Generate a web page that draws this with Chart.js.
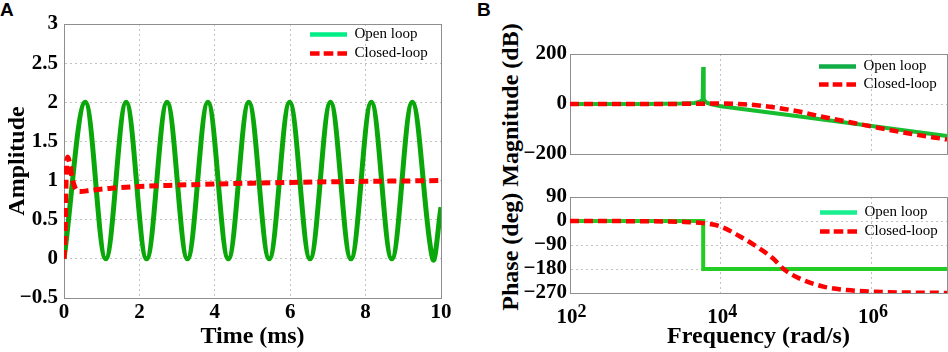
<!DOCTYPE html>
<html>
<head>
<meta charset="utf-8">
<script src="https://cdn.jsdelivr.net/npm/chart.js@4.4.0/dist/chart.umd.min.js"></script>
<style>
  body { margin: 0; background: #fff; width: 948px; height: 352px; overflow: hidden; position: relative; }
  canvas { position: absolute; }
  #cA { left: 0; top: 0; }
  #cMag { left: 470px; top: 0; }
  #cPh { left: 470px; top: 176px; }
  .panel { position: absolute; font: bold 19px "Liberation Sans", Arial, sans-serif; }
  #bodeY { position: absolute; left: 510px; top: 166.5px; transform: translate(-50%, -50%) rotate(-90deg);
           white-space: nowrap; line-height: 1; font: bold 24px "Liberation Serif", "Times New Roman", serif; }
</style>
</head>
<body>
<div class="panel" style="left:0px;top:-1px">A</div>
<div class="panel" style="left:477px;top:-1px">B</div>
<div id="bodeY">Phase (deg) Magnitude (dB)</div>
<canvas id="cA" width="470" height="352"></canvas>
<canvas id="cMag" width="478" height="176"></canvas>
<canvas id="cPh" width="478" height="176"></canvas>
<script>
// ---- panel A: step response (time in ms) ----
var openT = [0, 0.565, 1.107, 1.649, 2.191, 2.733, 3.275, 3.817, 4.359, 4.901, 5.443, 5.985, 6.527, 7.069, 7.611, 8.153, 8.695, 9.237, 9.779, 10];
var openAmp = [0, 2, 0, 2, 0, 2, 0, 2, 0, 2, 0, 2, 0, 2, 0, 2, 0, 2, 0, 0.66];
var closedT = [0, 0.03, 0.06, 0.1, 0.15, 0.21, 0.3, 0.43, 0.7, 1.2, 2, 3, 4, 5, 6, 7, 8, 9, 10];
var closedAmp = [0, 0.35, 1.1, 1.3, 1.22, 1.05, 0.9, 0.86, 0.875, 0.9, 0.925, 0.942, 0.956, 0.967, 0.976, 0.984, 0.99, 0.995, 1.0];

// ---- panel B: bode (rad/s) ----
var magFreqOpen = [1e2, 1e3, 3e3, 4.5e3, 5.3e3, 5.75e3, 5.84e3, 5.93e3, 6.5e3, 7.5e3, 1e4, 1e5, 1e6, 1e7];
var magOpen = [0, 0.5, 2, 4, 9, 18, 148, 18, 5, -1, -9, -48, -88, -128];
var magFreqClosed = [1e2, 1e3, 5e3, 1e4, 2e4, 3e4, 5e4, 1e5, 2e5, 5e5, 1e6, 3e6, 1e7];
var magClosed = [0, 0, 1, 2, -1, -5, -13, -28, -48, -72, -90, -117, -142];
var phFreqOpen = [1e2, 5.84e3, 5.84e3, 1e7];
var phOpen = [0, 0, -180, -180];
var phFreqClosed = [1e2, 1e3, 3e3, 5.8e3, 1e4, 1.8e4, 3e4, 4.9e4, 7e4, 1.1e5, 2.3e5, 4.7e5, 1e6, 1e7];
var phClosed = [0, -1, -3, -8, -21, -58, -96, -140, -183, -215, -246, -259, -265, -270];

var freqTicks = [1e2, 1e4, 1e6];
var freqExp = ['2', '4', '6'];

var seriesNames = ['Open loop', 'Closed-loop'];

var ink = '#000';
var axisGray = '#8e8e8e';
var gridGray = '#c2c2c2';
var red = '#ff0000';
var serif = '"Liberation Serif", "Times New Roman", serif';
var tickFont = { family: serif, size: 21, weight: 'bold' };
var titleFont = { family: serif, size: 24, weight: 'bold' };
var legendFont = { family: serif, size: 15 };

Chart.defaults.font.family = serif;
Chart.defaults.color = ink;

function pairs(xs, ys) {
  return xs.map(function (x, i) { return { x: x, y: ys[i] }; });
}

function fmt(v) {
  var r = Math.round(v * 100) / 100;
  return r < 0 ? '\u2212' + (-r) : String(r);
}

// dotted grid, hidden on the box edges
function gridLines(min, max) {
  return {
    drawTicks: false,
    lineWidth: 1,
    color: function (c) {
      if (!c.tick) return gridGray;
      var v = c.tick.value;
      var tol = Math.abs(max - min) * 1e-6;
      return (Math.abs(v - min) < tol || Math.abs(v - max) < tol) ? 'rgba(0,0,0,0)' : gridGray;
    }
  };
}

function borderStyle() {
  return { display: true, color: axisGray, width: 1, dash: [2, 3] };
}

// top + right axes only to close the box
function edgeScales(xType, xMin, xMax, yMin, yMax) {
  return {
    xTop: { type: xType, position: 'top', min: xMin, max: xMax, display: true,
            grid: { display: false }, ticks: { display: false },
            border: { display: true, color: axisGray, width: 1 },
            afterFit: function (s) { s.height = 0; } },
    yRight: { type: 'linear', position: 'right', min: yMin, max: yMax, display: true,
              grid: { display: false }, ticks: { display: false },
              border: { display: true, color: axisGray, width: 1 },
              afterFit: function (s) { s.width = 0; } }
  };
}

function legendOpts(colors, dashes, pad) {
  return {
    position: 'chartArea',
    align: 'start',
    labels: {
      usePointStyle: true,
      pointStyle: 'line',
      pointStyleWidth: 37,
      padding: pad,
      textAlign: 'left',
      color: ink,
      font: legendFont,
      sort: function (a, b) { return a.datasetIndex - b.datasetIndex; },
      generateLabels: function (chart) {
        return Chart.defaults.plugins.legend.labels.generateLabels(chart).map(function (it) {
          var i = it.datasetIndex;
          return Object.assign(it, {
            strokeStyle: colors[i], fillStyle: colors[i], lineWidth: 4.5,
            lineDash: dashes[i], lineCap: 'butt', pointStyle: 'line', textAlign: 'left'
          });
        });
      }
    }
  };
}

// put the legend box at a fixed spot inside the plot
function legendAt(x, y) {
  return {
    id: 'legendAt',
    afterLayout: function (chart) {
      var lg = chart.legend;
      var w = lg.width, h = lg.height;
      lg.left = x; lg.top = y; lg.right = x + w; lg.bottom = y + h;
    }
  };
}

// ---------------- A ----------------
new Chart(document.getElementById('cA'), {
  type: 'line',
  data: {
    datasets: [
      { label: seriesNames[0], data: pairs(openT, openAmp), borderColor: '#0aa70a', borderWidth: 5,
        tension: 0.363, pointRadius: 0, order: 1 },
      { label: seriesNames[1], data: pairs(closedT, closedAmp), borderColor: red, borderWidth: 5,
        borderDash: [9, 5], cubicInterpolationMode: 'monotone', pointRadius: 0, order: 0 }
    ]
  },
  options: {
    responsive: false,
    animation: false,
    layout: { padding: { left: 0, top: 24, right: 29, bottom: 0 } },
    scales: Object.assign({
      x: {
        type: 'linear', min: 0, max: 10,
        ticks: { stepSize: 2, font: tickFont, padding: 1.5, callback: fmt, autoSkip: false, maxRotation: 0 },
        grid: gridLines(0, 10), border: borderStyle(),
        title: { display: true, text: 'Time (ms)', font: titleFont, padding: { top: 0, bottom: 1 } },
        afterFit: function (s) { s.height = 54; }
      },
      y: {
        type: 'linear', min: -0.5, max: 3,
        ticks: { stepSize: 0.5, font: tickFont, padding: 6, callback: fmt, autoSkip: false },
        grid: gridLines(-0.5, 3), border: borderStyle(),
        title: { display: true, text: 'Amplitude', font: titleFont, padding: { top: 3, bottom: 0 } },
        afterFit: function (s) { s.width = 64; }
      }
    }, edgeScales('linear', 0, 10, -0.5, 3)),
    plugins: {
      legend: legendOpts(['#00ee88', red], [[], [9.6, 4.1]], 4),
      tooltip: { enabled: false }
    }
  },
  plugins: [legendAt(306, 23)]
});

// ---------------- B: magnitude ----------------
function freqAxis(showLabels, height) {
  var ax = {
    type: 'logarithmic', min: 1e2, max: 1e7,
    afterBuildTicks: function (s) { s.ticks = freqTicks.map(function (v) { return { value: v }; }); },
    grid: gridLines(1e2, 1e7), border: borderStyle(),
    afterFit: function (s) { s.height = height; }
  };
  if (showLabels) {
    ax.ticks = { font: tickFont, padding: 12, labelOffset: -3, autoSkip: false, maxRotation: 0,
                 callback: function () { return '10'; } };
    ax.title = { display: true, text: 'Frequency (rad/s)', font: titleFont, padding: { top: 0, bottom: 1 } };
  } else {
    ax.ticks = { display: false };
  }
  return ax;
}

new Chart(document.getElementById('cMag'), {
  type: 'line',
  data: {
    datasets: [
      { label: seriesNames[0], data: pairs(magFreqOpen, magOpen), borderColor: '#16bd2e', borderWidth: 4,
        tension: 0, pointRadius: 0, order: 1 },
      { label: seriesNames[1], data: pairs(magFreqClosed, magClosed), borderColor: red, borderWidth: 4.5,
        borderDash: [9, 5], cubicInterpolationMode: 'monotone', pointRadius: 0, order: 0 }
    ]
  },
  options: {
    responsive: false,
    animation: false,
    layout: { padding: { left: 0, top: 54, right: 1, bottom: 0 } },
    scales: Object.assign({
      x: freqAxis(false, 22),
      y: {
        type: 'linear', min: -200, max: 200,
        ticks: { stepSize: 200, font: tickFont, padding: 3, callback: fmt, autoSkip: false },
        grid: gridLines(-200, 200), border: borderStyle(),
        afterFit: function (s) { s.width = 100; }
      }
    }, edgeScales('logarithmic', 1e2, 1e7, -200, 200)),
    plugins: {
      legend: legendOpts(['#10ad47', red], [[], [9.6, 4.1]], 3),
      tooltip: { enabled: false }
    }
  },
  plugins: [legendAt(346, 56)]
});

// ---------------- B: phase ----------------
var tickExponents = {
  id: 'tickExponents',
  afterDraw: function (chart) {
    var sc = chart.scales.x;
    var c = chart.ctx;
    c.save();
    c.font = 'bold 18px ' + serif;
    c.fillStyle = ink;
    c.textAlign = 'left';
    c.textBaseline = 'alphabetic';
    freqTicks.forEach(function (v, i) {
      c.fillText(freqExp[i], sc.getPixelForValue(v) + 7.5, sc.top + 24);
    });
    c.restore();
  }
};

new Chart(document.getElementById('cPh'), {
  type: 'line',
  data: {
    datasets: [
      { label: seriesNames[0], data: pairs(phFreqOpen, phOpen), borderColor: '#22cc22', borderWidth: 4,
        tension: 0, pointRadius: 0, order: 1 },
      { label: seriesNames[1], data: pairs(phFreqClosed, phClosed), borderColor: red, borderWidth: 4.5,
        borderDash: [9, 5], cubicInterpolationMode: 'monotone', pointRadius: 0, order: 0 }
    ]
  },
  options: {
    responsive: false,
    animation: false,
    layout: { padding: { left: 0, top: 21, right: 1, bottom: 0 } },
    scales: Object.assign({
      x: freqAxis(true, 59),
      y: {
        type: 'linear', min: -270, max: 90,
        ticks: { stepSize: 90, font: tickFont, padding: 3, callback: fmt, autoSkip: false },
        grid: gridLines(-270, 90), border: borderStyle(),
        afterFit: function (s) { s.width = 100; }
      }
    }, edgeScales('logarithmic', 1e2, 1e7, -270, 90)),
    plugins: {
      legend: legendOpts(['#18f08f', red], [[], [9.6, 4.1]], 4),
      tooltip: { enabled: false }
    }
  },
  plugins: [legendAt(346, 25), tickExponents]
});
</script>
</body>
</html>
